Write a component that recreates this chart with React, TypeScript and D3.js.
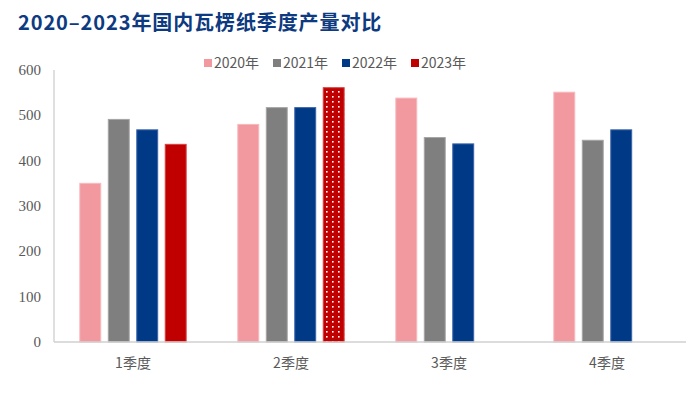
import { useEffect, useRef } from "react";
import * as d3 from "d3";

const quarters = ["1季度", "2季度", "3季度", "4季度"];
const seriesNames = ["2020年", "2021年", "2022年", "2023年"];
const colors = ["#F2989F", "#7F7F7F", "#003A86", "#C00000"];
const borders = ["#F8B8BD", "#A5A5A5", "#3A62A8", "#D84040"];
const v2020 = [350, 480, 538, 551];
const v2021 = [491, 517, 451, 445];
const v2022 = [468, 517, 437, 468];
const v2023 = [436, 561, null, null];
const yTicks = [0, 100, 200, 300, 400, 500, 600];

const App = () => {
  const svgRef = useRef<SVGSVGElement>(null);

  useEffect(() => {
    const svg = d3.select(svgRef.current);
    svg.selectAll("*").remove();
    const W = 700, H = 393;
    const left = 54, right = 686, top = 70, bottom = 342;

    const defs = svg.append("defs");
    const pat = defs.append("pattern")
      .attr("id", "dots").attr("patternUnits", "userSpaceOnUse")
      .attr("width", 6).attr("height", 5);
    pat.append("rect").attr("width", 6).attr("height", 5).attr("fill", "#C00000");
    pat.append("rect").attr("x", 2).attr("y", 1).attr("width", 1.6).attr("height", 1.6).attr("fill", "#fff");

    svg.append("rect").attr("width", W).attr("height", H).attr("fill", "#fff");

    svg.append("text").attr("x", 18).attr("y", 30)
      .attr("font-family", "'Noto Sans CJK SC', sans-serif")
      .attr("font-size", 20).attr("font-weight", "bold").attr("fill", "#0D3A80")
      .attr("letter-spacing", 0.9)
      .text("2020–2023年国内瓦楞纸季度产量对比");

    const x0 = d3.scaleBand().domain(quarters).range([left, right]).padding(0);
    const x1 = d3.scaleBand().domain(seriesNames).range([0, x0.bandwidth()])
      .paddingInner(0.23).paddingOuter(0.89);
    const y = d3.scaleLinear().domain([0, 600]).range([bottom, top]);

    const all = [v2020, v2021, v2022, v2023];
    const rows = quarters.flatMap((q, qi) =>
      seriesNames.map((s, si) => ({ q, s, si, v: all[si][qi] }))
    ).filter(d => d.v != null);

    svg.append("g").selectAll("rect").data(rows).join("rect")
      .attr("x", d => (x0(d.q) as number) + (x1(d.s) as number) + 0.5)
      .attr("y", d => y(d.v as number))
      .attr("width", x1.bandwidth() - 1)
      .attr("height", d => bottom - y(d.v as number))
      .attr("fill", d => (d.si === 3 && d.q === "2季度") ? "url(#dots)" : colors[d.si])
      .attr("stroke", d => borders[d.si])
      .attr("stroke-width", 1);

    // axes
    svg.append("line").attr("x1", left).attr("x2", left).attr("y1", top).attr("y2", bottom)
      .attr("stroke", "#BFBFBF");
    svg.append("line").attr("x1", left).attr("x2", right).attr("y1", bottom).attr("y2", bottom)
      .attr("stroke", "#D0D0D0").attr("stroke-width", 1.5);

    svg.append("g").selectAll("text").data(yTicks).join("text")
      .attr("x", 41).attr("y", d => y(d) + 5)
      .attr("text-anchor", "end")
      .attr("font-family", "'Liberation Serif', 'Times New Roman', serif")
      .attr("font-size", 15).attr("fill", "#595959")
      .text(d => d);

    svg.append("g").selectAll("text").data(quarters).join("text")
      .attr("x", d => (x0(d) as number) + x0.bandwidth() / 2)
      .attr("y", 368).attr("text-anchor", "middle")
      .attr("font-family", "'Noto Sans CJK SC', sans-serif")
      .attr("font-size", 14).attr("fill", "#595959")
      .text(d => d);

    // legend
    const lx = [204, 273, 342, 411];
    const lg = svg.append("g").selectAll("g").data(seriesNames).join("g")
      .attr("transform", (d, i) => `translate(${lx[i]}, 63)`);
    lg.append("rect").attr("x", 0).attr("y", -4).attr("width", 8).attr("height", 8)
      .attr("fill", (d, i) => colors[i]);
    lg.append("text").attr("x", 10).attr("y", 5)
      .attr("font-family", "'Noto Sans CJK SC', sans-serif")
      .attr("font-size", 14).attr("fill", "#595959")
      .text(d => d);
  }, []);

  return <svg ref={svgRef} width={700} height={393} style={{ display: "block", position: "absolute", left: 0, top: 0 }} />;
};

export default App;
